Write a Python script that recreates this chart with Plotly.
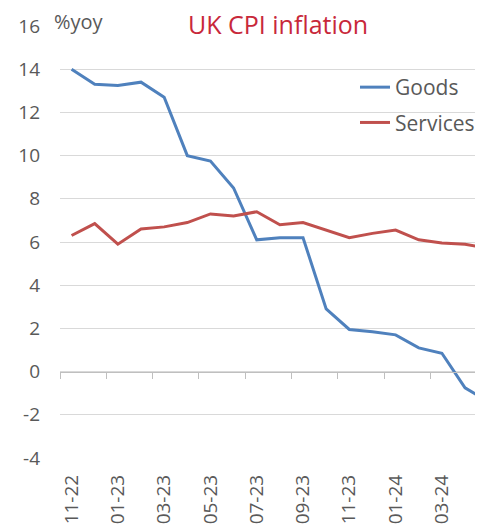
import plotly.graph_objects as go

months = ["11-22", "12-22", "01-23", "02-23", "03-23", "04-23", "05-23", "06-23",
          "07-23", "08-23", "09-23", "10-23", "11-23", "12-23", "01-24", "02-24",
          "03-24", "04-24", "05-24"]
goods = [14.0, 13.3, 13.25, 13.4, 12.7, 10.0, 9.75, 8.5, 6.1, 6.2, 6.2, 2.9,
         1.95, 1.85, 1.7, 1.1, 0.85, -0.75, -1.4]
services = [6.3, 6.85, 5.9, 6.6, 6.7, 6.9, 7.3, 7.2, 7.4, 6.8, 6.9, 6.55,
            6.2, 6.4, 6.55, 6.1, 5.95, 5.9, 5.7]
y_ticks = [-4, -2, 0, 2, 4, 6, 8, 10, 12, 14, 16]

idx = list(range(len(months)))
label_vals = idx[::2][:9]
label_text = months[::2][:9]
boundary_ticks = [i - 0.5 for i in label_vals]

FONT = "Open Sans"
GREY = "#595959"
xr = [-0.5, 17.43]

fig = go.Figure()
fig.add_trace(go.Scatter(x=idx, y=goods, name="Goods", mode="lines",
                         line=dict(color="#4F81BD", width=3), xaxis="x", yaxis="y",
                         legendgroup="g"))
fig.add_trace(go.Scatter(x=idx, y=services, name="Services", mode="lines",
                         line=dict(color="#C0504D", width=3), xaxis="x2", yaxis="y",
                         legendgroup="s"))

fig.update_layout(
    width=486, height=526,
    margin=dict(l=60, r=11, t=26, b=68, autoexpand=False),
    paper_bgcolor="white", plot_bgcolor="white",
    font=dict(family=FONT, color=GREY),
    xaxis=dict(range=xr, type="linear", showgrid=False, zeroline=False, showline=False,
               tickmode="array", tickvals=label_vals, ticktext=label_text,
               tickangle=-90, ticks="", tickfont=dict(size=19, color=GREY),
               ticklabelstandoff=12, automargin=False),
    xaxis2=dict(range=xr, type="linear", overlaying="x", anchor="free", position=0.2,
                side="bottom", showgrid=False, zeroline=False, showline=True,
                linecolor="#BFBFBF", linewidth=1, ticks="outside", ticklen=6,
                tickcolor="#BFBFBF", tickwidth=1, tickmode="array",
                tickvals=boundary_ticks, showticklabels=False, automargin=False),
    yaxis=dict(range=[-4, 16], tickmode="array", tickvals=y_ticks,
               ticktext=[str(v) for v in y_ticks], showgrid=True, gridcolor="#D9D9D9",
               gridwidth=1, zeroline=False, showline=False, ticks="",
               tickfont=dict(size=19, color=GREY), ticklabelstandoff=19,
               automargin=False),
    showlegend=True,
    legend=dict(x=(355 - 60) / 415, y=(458 - 67) / 432, xanchor="left", yanchor="top",
                bgcolor="rgba(0,0,0,0)", font=dict(size=21, color=GREY),
                traceorder="grouped", tracegroupgap=5, itemwidth=30),
    annotations=[
        dict(text="UK CPI inflation", xref="paper", yref="paper",
             x=(278 - 60) / 415, y=(458 - 24) / 432, xanchor="center", yanchor="middle",
             showarrow=False, font=dict(size=25, color="#C8283A", family=FONT)),
        dict(text="%yoy", xref="paper", yref="paper",
             x=(52 - 60) / 415, y=(458 - 22) / 432, xanchor="left", yanchor="middle",
             showarrow=False, font=dict(size=20, color=GREY, family=FONT)),
    ],
)

fig.write_html("out.html")
